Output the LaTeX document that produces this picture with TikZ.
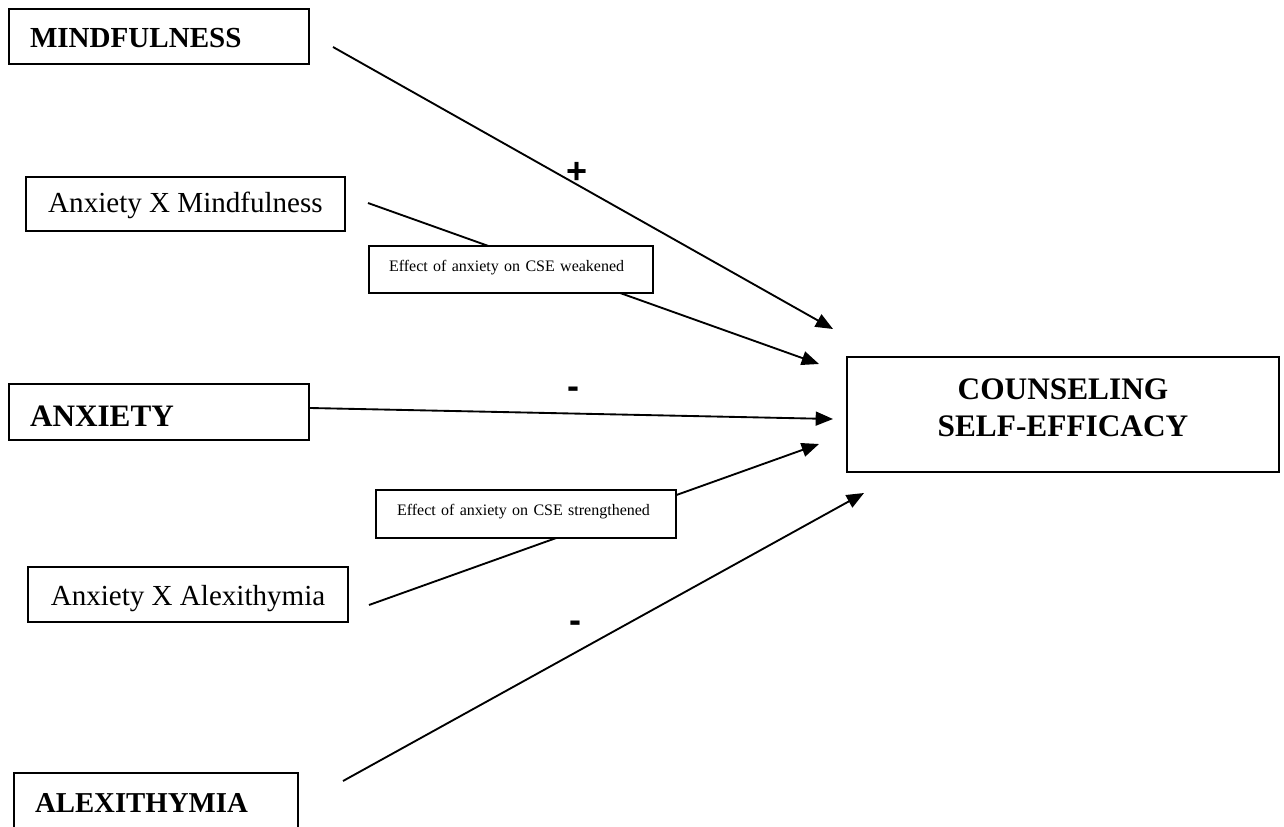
\documentclass[tikz,border=0pt]{standalone}
\usepackage{fontspec}
\setmainfont{Liberation Serif}
\newfontfamily\signfont{Liberation Sans}
\usetikzlibrary{arrows.meta}
\begin{document}
\begin{tikzpicture}[x=0.75pt,y=-0.75pt,
  box/.style={draw, line width=1.6pt, rectangle, fill=white, inner ysep=0pt},
  bigbold/.style={font=\fontsize{#1}{#1}\selectfont\bfseries},
  conn/.style={line width=1.4pt, -{Triangle[length=13pt,width=10.5pt]}},
  sign/.style={font=\signfont\bfseries\fontsize{27}{27}\selectfont, inner sep=0pt}]
\useasboundingbox (0,0) rectangle (1284,827);

% connector end points
\coordinate (m0) at (333,47);
\coordinate (t1) at (833,329);
\coordinate (w0) at (368,203);
\coordinate (t2) at (819,364);
\coordinate (a0) at (310,408);
\coordinate (t3) at (833,419);
\coordinate (s0) at (369,605);
\coordinate (t4) at (819,444);
\coordinate (x0) at (343,781);
\coordinate (t5) at (864,493);

% connectors
\draw[conn] (m0) -- (t1);
\draw[conn] (w0) -- (t2);
\draw[conn] (a0) -- (t3);
\draw[conn] (s0) -- (t4);
\draw[conn] (x0) -- (t5);

% boxes
\node[box, inner xsep=15.75pt, text width=193.5pt, align=left, minimum height=41.25pt,
  text height=17.25pt, text depth=0pt, bigbold=21.8] (mind) at (159,36.5) {MINDFULNESS};
\node[box, inner xsep=15.75pt, text width=193.5pt, align=left, minimum height=42pt,
  text height=21pt, text depth=0pt, bigbold=23.4] (anx) at (159,412) {ANXIETY};
\node[box, inner xsep=15.75pt, text width=181.5pt, align=left, minimum height=43.5pt,
  text height=15pt, text depth=0pt, bigbold=21.6] (alex) at (156,802) {ALEXITHYMIA};

\node[box, inner xsep=0pt, minimum width=239.25pt, minimum height=40.5pt,
  text height=13.5pt, text depth=0pt, font=\fontsize{21.8}{26}\selectfont] (axm) at (185.5,204) {Anxiety X Mindfulness};
\node[box, inner xsep=0pt, minimum width=240pt, minimum height=41.25pt,
  text height=15.75pt, text depth=0pt, font=\fontsize{21.8}{26}\selectfont] (axa) at (188,594.5) {Anxiety X Alexithymia};

\node[box, inner xsep=15pt, text width=183pt, align=left, minimum height=35.25pt,
  text height=3.75pt, text depth=0pt, font=\fontsize{12}{14}\selectfont] (weak) at (511,269.5) {Effect of anxiety on CSE weakened};
\node[box, inner xsep=15.75pt, text width=193.5pt, align=left, minimum height=36pt,
  text height=1.5pt, text depth=0pt, font=\fontsize{12}{14}\selectfont] (strong) at (526,514) {Effect of anxiety on CSE strengthened};

\node[box, inner xsep=0pt, text width=324pt, align=center, minimum height=86.25pt,
  text height=0pt, text depth=23.25pt, font=\fontsize{23.5}{27.75}\selectfont\bfseries] (cse) at (1063,414.5) {COUNSELING\\SELF-EFFICACY};

% signs
\node[sign] (plus) at (577,173) {+};
\node[sign] (minus1) at (573,393) {-};
\node[sign] (minus2) at (575,627) {-};
\end{tikzpicture}
\end{document}
